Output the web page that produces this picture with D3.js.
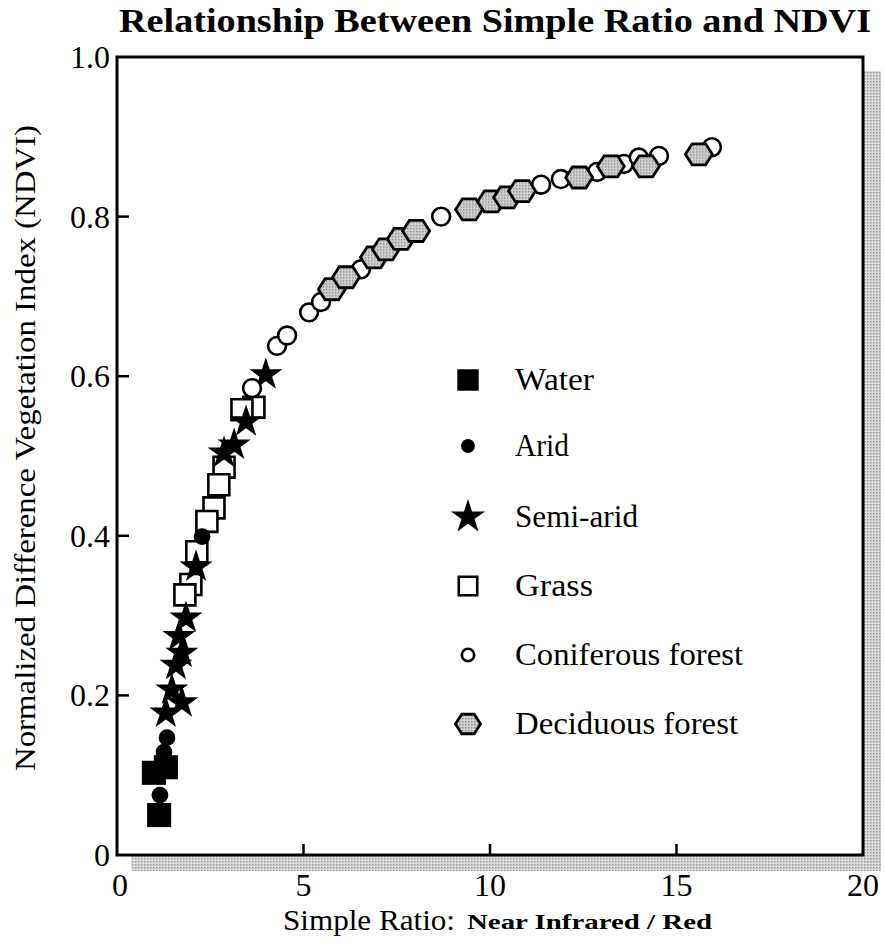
<!DOCTYPE html>
<html>
<head>
<meta charset="utf-8">
<script src="https://cdn.jsdelivr.net/npm/d3@7"></script>
<style>
  body { margin: 0; background: #fff; }
  svg { display: block; font-family: "Liberation Serif", "Times New Roman", serif; }
</style>
</head>
<body>
<svg id="chart" width="885" height="944"></svg>
<script>
// simple ratio (x) and NDVI (y), one pair of arrays per cover type
const waterSR = [1.13, 0.99, 1.31];
const waterNDVI = [0.050, 0.103, 0.110];

const aridSR = [1.15, 1.26, 1.34, 2.28];
const aridNDVI = [0.075, 0.129, 0.147, 0.399];

const semiAridSR = [3.99, 3.46, 3.14, 2.87, 2.12, 1.85, 1.66, 1.74, 1.58, 1.47, 1.74, 1.31];
const semiAridNDVI = [0.602, 0.543, 0.514, 0.504, 0.361, 0.297, 0.274, 0.253, 0.238, 0.207, 0.191, 0.178];

const grassSR = [3.67, 3.35, 2.87, 2.73, 2.60, 2.41, 2.14, 1.98, 1.82];
const grassNDVI = [0.561, 0.558, 0.486, 0.464, 0.435, 0.418, 0.380, 0.339, 0.326];

const coniferSR = [3.62, 4.29, 4.56, 5.15, 5.47, 6.54, 8.69, 11.37, 11.90, 12.87, 13.59, 13.99, 14.53, 15.95];
const coniferNDVI = [0.585, 0.638, 0.651, 0.680, 0.693, 0.734, 0.800, 0.840, 0.847, 0.856, 0.866, 0.874, 0.876, 0.887];

const deciduousSR = [5.76, 6.14, 6.89, 7.21, 7.61, 8.02, 9.44, 10.03, 10.46, 10.86, 12.39, 13.24, 14.18, 15.60];
const deciduousNDVI = [0.709, 0.724, 0.749, 0.759, 0.772, 0.782, 0.809, 0.819, 0.824, 0.832, 0.849, 0.863, 0.863, 0.878];

const legendNames = ["Water", "Arid", "Semi-arid", "Grass", "Coniferous forest", "Deciduous forest"];
const xTicks = [0, 5, 10, 15, 20];
const yTicks = [0, 0.2, 0.4, 0.6, 0.8, 1.0];

const svg = d3.select("#chart");
const plotL = 117, plotR = 863, plotT = 57, plotB = 855;

const x = d3.scaleLinear().domain([0, 20]).range([plotL, plotR]);
const y = d3.scaleLinear().domain([0, 1]).range([plotB, plotT]);

// stipple patterns (shadow and hexagon fill)
const defs = svg.append("defs");
const shade = defs.append("pattern").attr("id", "shade")
    .attr("width", 3).attr("height", 3).attr("patternUnits", "userSpaceOnUse");
shade.append("rect").attr("width", 3).attr("height", 3).attr("fill", "#dcdcdc");
shade.append("rect").attr("width", 1.5).attr("height", 1.5).attr("fill", "#999");

const dots = defs.append("pattern").attr("id", "dots")
    .attr("width", 3).attr("height", 3).attr("patternUnits", "userSpaceOnUse");
dots.append("rect").attr("width", 3).attr("height", 3).attr("fill", "#d0d0d0");
dots.append("rect").attr("width", 1.4).attr("height", 1.4).attr("fill", "#888");

// drop shadow of the frame
svg.append("rect")
    .attr("x", plotL + 14).attr("y", plotT + 14)
    .attr("width", plotR - plotL + 4).attr("height", plotB - plotT + 2)
    .attr("fill", "url(#shade)");

svg.append("rect")
    .attr("x", plotL).attr("y", plotT)
    .attr("width", plotR - plotL).attr("height", plotB - plotT)
    .attr("fill", "#fff").attr("stroke", "#000").attr("stroke-width", 3);

// inward ticks
svg.append("g").selectAll("line").data(xTicks.slice(1, -1)).join("line")
    .attr("x1", d => x(d)).attr("x2", d => x(d))
    .attr("y1", plotB).attr("y2", plotB - 11)
    .attr("stroke", "#000").attr("stroke-width", 2.5);
svg.append("g").selectAll("line").data(yTicks.slice(1, -1)).join("line")
    .attr("x1", plotL).attr("x2", plotL + 12)
    .attr("y1", d => y(d)).attr("y2", d => y(d))
    .attr("stroke", "#000").attr("stroke-width", 2.5);

// tick labels
svg.append("g").selectAll("text").data(xTicks).join("text")
    .attr("x", d => x(d) + (d === 0 ? 3 : 0)).attr("y", plotB + 41)
    .attr("text-anchor", "middle").attr("font-size", 32)
    .text(d => d);
svg.append("g").selectAll("text").data(yTicks).join("text")
    .attr("x", plotL - 7).attr("y", d => y(d) + 11)
    .attr("text-anchor", "end").attr("font-size", 32)
    .text(d => d === 0 ? "0" : d.toFixed(1));

// titles
svg.append("text")
    .attr("x", 119).attr("y", 32)
    .attr("font-size", 34).attr("font-weight", "bold")
    .attr("textLength", 752).attr("lengthAdjust", "spacingAndGlyphs")
    .text("Relationship Between Simple Ratio and NDVI");

svg.append("text")
    .attr("transform", "translate(35,448) rotate(-90)")
    .attr("text-anchor", "middle").attr("font-size", 29)
    .attr("textLength", 646).attr("lengthAdjust", "spacingAndGlyphs")
    .text("Normalized Difference Vegetation Index (NDVI)");

svg.append("text")
    .attr("x", 283).attr("y", 930).attr("font-size", 29)
    .attr("textLength", 172).attr("lengthAdjust", "spacingAndGlyphs")
    .text("Simple Ratio:");
svg.append("text")
    .attr("x", 467).attr("y", 929).attr("font-size", 21).attr("font-weight", "bold")
    .attr("textLength", 245).attr("lengthAdjust", "spacingAndGlyphs")
    .text("Near Infrared / Red");

// marker shapes
const hexPath = (r) => {
    const pts = d3.range(6).map(i => {
        const a = Math.PI / 3 * i;
        return [r * Math.cos(a), r * 0.9 * Math.sin(a)];
    });
    return "M" + pts.join("L") + "Z";
};
const styles = [
    { path: d3.symbol(d3.symbolSquare, 580)(), fill: "#000", stroke: "none", sw: 0 },
    { path: d3.symbol(d3.symbolCircle, 220)(), fill: "#000", stroke: "none", sw: 0 },
    { path: d3.symbol(d3.symbolStar, 340)(), fill: "#000", stroke: "none", sw: 0 },
    { path: d3.symbol(d3.symbolSquare, 440)(), fill: "#fff", stroke: "#000", sw: 2.6 },
    { path: d3.symbol(d3.symbolCircle, 250)(), fill: "#fff", stroke: "#000", sw: 2.6 },
    { path: hexPath(13.5), fill: "url(#dots)", stroke: "#000", sw: 2.8 }
];

const series = [
    [waterSR, waterNDVI],
    [aridSR, aridNDVI],
    [semiAridSR, semiAridNDVI],
    [grassSR, grassNDVI],
    [coniferSR, coniferNDVI],
    [deciduousSR, deciduousNDVI]
];

const drawOrder = [3, 2, 0, 1, 4, 5];
drawOrder.forEach(k => {
    const [xs, ys] = series[k];
    const st = styles[k];
    svg.append("g").selectAll("path").data(xs.map((v, i) => [v, ys[i]])).join("path")
        .attr("d", st.path)
        .attr("transform", d => `translate(${x(d[0])},${y(d[1])})`)
        .attr("fill", st.fill).attr("stroke", st.stroke).attr("stroke-width", st.sw);
});

// legend
const legendY = [380, 446, 517, 586, 655, 724];
const legendStyles = [
    { path: d3.symbol(d3.symbolSquare, 460)(), fill: "#000", stroke: "none", sw: 0 },
    { path: d3.symbol(d3.symbolCircle, 150)(), fill: "#000", stroke: "none", sw: 0 },
    { path: d3.symbol(d3.symbolStar, 360)(), fill: "#000", stroke: "none", sw: 0 },
    { path: d3.symbol(d3.symbolSquare, 340)(), fill: "#fff", stroke: "#000", sw: 2.6 },
    { path: d3.symbol(d3.symbolCircle, 120)(), fill: "#fff", stroke: "#000", sw: 2.6 },
    { path: hexPath(12.5), fill: "url(#dots)", stroke: "#000", sw: 2.8 }
];
const legendW = [79, 54, 123, 78, 228, 223];
const lg = svg.append("g").selectAll("g").data(legendNames).join("g")
    .attr("transform", (d, i) => `translate(468,${legendY[i]})`);
lg.append("path")
    .attr("d", (d, i) => legendStyles[i].path)
    .attr("fill", (d, i) => legendStyles[i].fill)
    .attr("stroke", (d, i) => legendStyles[i].stroke)
    .attr("stroke-width", (d, i) => legendStyles[i].sw);
lg.append("text")
    .attr("x", 47).attr("y", 10).attr("font-size", 31)
    .attr("textLength", (d, i) => legendW[i]).attr("lengthAdjust", "spacingAndGlyphs")
    .text(d => d);
</script>
</body>
</html>
